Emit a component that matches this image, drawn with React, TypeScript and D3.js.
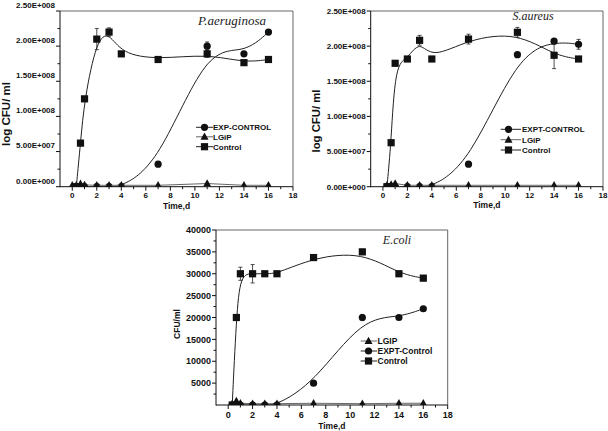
import React from 'react';
import * as d3 from 'd3';

// ---------- Data ----------
// P. aeruginosa
const paControlX = [0.33, 0.67, 1, 2, 3, 4, 7, 11, 14, 16];
const paControlY = [0, 6.2e7, 1.25e8, 2.1e8, 2.2e8, 1.89e8, 1.81e8, 1.89e8, 1.765e8, 1.81e8];
const paControlErr = [0, 0, 0, 1.5e7, 6e6, 0, 0, 5e6, 0, 0];
const paExpX = [0.33, 0.67, 1, 2, 3, 4, 7, 11, 14, 16];
const paExpY = [0, 0, 0, 0, 0, 0, 3.2e7, 2.0e8, 1.89e8, 2.2e8];
const paExpErr = [0, 0, 0, 0, 0, 0, 0, 6e6, 0, 0];
const paLgipX = [0, 0.33, 0.67, 1, 2, 3, 4, 7, 11, 14, 16];
const paLgipY = [2e6, 2e6, 4e6, 2.5e6, 2e6, 2e6, 2e6, 2e6, 4.5e6, 2e6, 2e6];

// S. aureus
const saControlX = [0.33, 0.67, 1, 2, 3, 4, 7, 11, 14, 16];
const saControlY = [0, 6.26e7, 1.756e8, 1.817e8, 2.083e8, 1.817e8, 2.1e8, 2.197e8, 1.87e8, 1.817e8];
const saControlErr = [0, 0, 0, 0, 7e6, 0, 7e6, 7e6, 1.9e7, 0];
const saExpX = [0.33, 0.67, 1, 2, 3, 4, 7, 11, 14, 16];
const saExpY = [0, 0, 0, 0, 0, 0, 3.2e7, 1.878e8, 2.07e8, 2.026e8];
const saExpErr = [0, 0, 0, 0, 0, 0, 0, 0, 3e6, 7e6];
const saLgipX = [0.33, 0.67, 1, 2, 3, 4, 7, 11, 14, 16];
const saLgipY = [2e6, 3e6, 4.5e6, 2e6, 2e6, 2e6, 2e6, 2e6, 2e6, 2e6];

// E. coli
const ecControlX = [0.33, 0.67, 1, 2, 3, 4, 7, 11, 14, 16];
const ecControlY = [0, 20000, 30000, 30000, 30000, 30000, 33700, 35000, 30000, 29000];
const ecControlErr = [0, 0, 1500, 2100, 0, 0, 500, 600, 600, 600];
const ecExpX = [0.33, 0.67, 1, 2, 3, 4, 7, 11, 14, 16];
const ecExpY = [0, 0, 0, 0, 0, 0, 5000, 20000, 20000, 22000];
const ecExpErr = [0, 0, 0, 0, 0, 0, 0, 700, 0, 0];
const ecLgipX = [0.33, 0.67, 1, 2, 3, 4, 7, 11, 14, 16];
const ecLgipY = [300, 900, 400, 300, 300, 300, 400, 300, 400, 400];

const xMajorTicks = [0, 2, 4, 6, 8, 10, 12, 14, 16, 18];
const xMinorTicks = [1, 3, 5, 7, 9, 11, 13, 15, 17];
const sciTicks = [0, 5e7, 1e8, 1.5e8, 2e8, 2.5e8];
const ecoliTicks = [5000, 10000, 15000, 20000, 25000, 30000, 35000, 40000];

const SANS = "'Liberation Sans', Arial, sans-serif";
const SERIF = "'Liberation Serif', 'Times New Roman', serif";

function sciFmt(v: number): string {
  if (v === 0) return '0.00E+000';
  const e = Math.floor(Math.log10(v));
  const m = v / Math.pow(10, e);
  return `${m.toFixed(2)}E+${String(e).padStart(3, '0')}`;
}

type Shape = 'square' | 'circle' | 'triangle';

function Marker({ shape, cx, cy }: { shape: Shape; cx: number; cy: number }) {
  const fill = '#111';
  if (shape === 'square') return <rect x={cx - 3.6} y={cy - 3.6} width={7.2} height={7.2} fill={fill} />;
  if (shape === 'circle') return <circle cx={cx} cy={cy} r={3.6} fill={fill} />;
  return <path d={`M${cx},${cy - 4.3}L${cx - 4},${cy + 3}L${cx + 4},${cy + 3}Z`} fill={fill} />;
}

interface Series {
  xs: number[];
  ys: number[];
  errs?: number[];
  shape: Shape;
  curve: 'basis' | 'linear';
  color: string;
}

interface LegendItem {
  label: string;
  shape: Shape;
  color: string;
}

interface PanelProps {
  id: string;
  left: number;
  right: number;
  top: number;
  bottom: number;
  yMax: number;
  yTicks: number[];
  yMinorStep: number;
  yFmt: (v: number) => string;
  labelDy: number;
  tickFont: number;
  xLabelDy: number;
  xTitleY: number;
  yTitle: { x: number; y: number; text: string; size: number; len?: number };
  title: { x: number; y: number; text: string; size: number };
  legend: { x0: number; x1: number; mx: number; tx: number; rows: number[]; items: LegendItem[]; size: number };
  series: Series[];
}

function Panel(p: PanelProps) {
  const x = d3.scaleLinear().domain([-1, 18]).range([p.left, p.right]);
  const y = d3.scaleLinear().domain([0, p.yMax]).range([p.bottom, p.top]);
  const clipId = `clip-${p.id}`;
  const minorY: number[] = [];
  for (let v = p.yMinorStep; v < p.yMax; v += p.yMinorStep * 2) minorY.push(v);

  return (
    <g>
      <defs>
        <clipPath id={clipId}>
          <rect x={p.left} y={p.top} width={p.right - p.left} height={p.bottom - p.top} />
        </clipPath>
      </defs>
      {/* frame */}
      <line x1={p.left} x2={p.right} y1={p.top} y2={p.top} stroke="#666" strokeWidth={1} />
      <line x1={p.right} x2={p.right} y1={p.top} y2={p.bottom} stroke="#666" strokeWidth={1} />
      <line x1={p.left} x2={p.left} y1={p.top} y2={p.bottom + 0.5} stroke="#111" strokeWidth={1} />
      <line x1={p.left} x2={p.right} y1={p.bottom} y2={p.bottom} stroke="#111" strokeWidth={1} />

      {/* x ticks */}
      {xMajorTicks.map((t) => (
        <g key={`xm${t}`}>
          <line x1={x(t)} x2={x(t)} y1={p.bottom} y2={p.bottom + 4} stroke="#111" />
          <text x={x(t)} y={p.bottom + p.xLabelDy} textAnchor="middle" fontFamily={SANS} fontWeight="bold" fontSize={p.tickFont} fill="#111">
            {t}
          </text>
        </g>
      ))}
      {xMinorTicks.map((t) => (
        <line key={`xn${t}`} x1={x(t)} x2={x(t)} y1={p.bottom} y2={p.bottom + 2.5} stroke="#111" />
      ))}

      {/* y ticks */}
      {p.yTicks.map((t) => (
        <g key={`ym${t}`}>
          <line x1={p.left - 4} x2={p.left} y1={y(t)} y2={y(t)} stroke="#111" />
          <text x={p.left - 5} y={y(t) + p.labelDy} dy="0.35em" textAnchor="end" fontFamily={SANS} fontWeight="bold" fontSize={p.tickFont} fill="#111">
            {p.yFmt(t)}
          </text>
        </g>
      ))}
      {minorY.map((t) => (
        <line key={`yn${t}`} x1={p.left - 2.5} x2={p.left} y1={y(t)} y2={y(t)} stroke="#111" />
      ))}

      {/* axis titles */}
      <text x={(p.left + p.right) / 2} y={p.xTitleY} textAnchor="middle" fontFamily={SANS} fontWeight="bold" fontSize={8.5} fill="#111">
        Time,d
      </text>
      <text
        transform={`translate(${p.yTitle.x},${p.yTitle.y}) rotate(-90)`}
        textAnchor="middle"
        dy="0.35em"
        fontFamily={SANS}
        fontWeight="bold"
        fontSize={p.yTitle.size}
        textLength={p.yTitle.len}
        lengthAdjust={p.yTitle.len ? 'spacingAndGlyphs' : undefined}
        fill="#111"
      >
        {p.yTitle.text}
      </text>

      {/* chart title */}
      <text x={p.title.x} y={p.title.y} textAnchor="middle" fontFamily={SERIF} fontStyle="italic" fontSize={p.title.size} fill="#222">
        {p.title.text}
      </text>

      {/* series */}
      <g clipPath={`url(#${clipId})`}>
        {p.series.map((s, i) => {
          const pts: [number, number][] = s.xs.map((xv, j) => [xv, s.ys[j]]);
          const line = d3
            .line<[number, number]>()
            .x((d) => x(d[0]))
            .y((d) => y(d[1]))
            .curve(s.curve === 'basis' ? d3.curveBasis : d3.curveLinear);
          return (
            <g key={`s${i}`}>
              <path d={line(pts) || ''} fill="none" stroke={s.color} strokeWidth={1} />
              {s.errs &&
                s.errs.map((e, j) =>
                  e > 0 ? (
                    <g key={`e${j}`} stroke={s.color} strokeWidth={0.8}>
                      <line x1={x(s.xs[j])} x2={x(s.xs[j])} y1={y(s.ys[j] - e)} y2={y(s.ys[j] + e)} />
                      <line x1={x(s.xs[j]) - 2} x2={x(s.xs[j]) + 2} y1={y(s.ys[j] + e)} y2={y(s.ys[j] + e)} />
                      <line x1={x(s.xs[j]) - 2} x2={x(s.xs[j]) + 2} y1={y(s.ys[j] - e)} y2={y(s.ys[j] - e)} />
                    </g>
                  ) : null
                )}
              {pts.map((d, j) => (
                <Marker key={`m${j}`} shape={s.shape} cx={x(d[0])} cy={y(d[1])} />
              ))}
            </g>
          );
        })}
      </g>

      {/* legend */}
      {p.legend.items.map((it, i) => (
        <g key={`l${i}`}>
          <line x1={p.legend.x0} x2={p.legend.x1} y1={p.legend.rows[i]} y2={p.legend.rows[i]} stroke={it.color} strokeWidth={1} />
          <Marker shape={it.shape} cx={p.legend.mx} cy={p.legend.rows[i]} />
          <text x={p.legend.tx} y={p.legend.rows[i]} dy="0.35em" fontFamily={SANS} fontWeight="bold" fontSize={p.legend.size} fill="#111">
            {it.label}
          </text>
        </g>
      ))}
    </g>
  );
}

const DARK = '#222';
const GREY = '#666';

export default function App() {
  return (
    <svg width={608} height={431} style={{ position: 'absolute', left: 0, top: 0, background: '#fff' }}>
      <rect width={608} height={431} fill="#fff" />
      <Panel
        id="pa"
        left={60}
        right={293}
        top={11}
        bottom={186.7}
        yMax={2.5e8}
        yTicks={sciTicks}
        yMinorStep={2.5e7}
        yFmt={sciFmt}
        labelDy={-6}
        tickFont={8}
        xLabelDy={11}
        xTitleY={209}
        yTitle={{ x: 6, y: 114, text: 'log CFU/ ml', size: 10, len: 64 }}
        title={{ x: 232, y: 25, text: 'P.aeruginosa', size: 13 }}
        legend={{
          x0: 196,
          x1: 213,
          mx: 204.5,
          tx: 213,
          rows: [127.3, 136.8, 146.7],
          size: 8,
          items: [
            { label: 'EXP-CONTROL', shape: 'circle', color: DARK },
            { label: 'LGiP', shape: 'triangle', color: GREY },
            { label: 'Control', shape: 'square', color: DARK },
          ],
        }}
        series={[
          { xs: paExpX, ys: paExpY, errs: paExpErr, shape: 'circle', curve: 'basis', color: DARK },
          { xs: paLgipX, ys: paLgipY, shape: 'triangle', curve: 'linear', color: GREY },
          { xs: paControlX, ys: paControlY, errs: paControlErr, shape: 'square', curve: 'basis', color: DARK },
        ]}
      />
      <Panel
        id="sa"
        left={370.7}
        right={603}
        top={11}
        bottom={186.7}
        yMax={2.5e8}
        yTicks={sciTicks}
        yMinorStep={2.5e7}
        yFmt={sciFmt}
        labelDy={0}
        tickFont={8}
        xLabelDy={11}
        xTitleY={208}
        yTitle={{ x: 316, y: 121, text: 'log CFU/ ml', size: 10, len: 63 }}
        title={{ x: 533, y: 20, text: 'S.aureus', size: 12 }}
        legend={{
          x0: 500.7,
          x1: 521,
          mx: 508.5,
          tx: 522,
          rows: [129.3, 139.7, 150],
          size: 8,
          items: [
            { label: 'EXPT-CONTROL', shape: 'circle', color: DARK },
            { label: 'LGiP', shape: 'triangle', color: GREY },
            { label: 'Control', shape: 'square', color: DARK },
          ],
        }}
        series={[
          { xs: saExpX, ys: saExpY, errs: saExpErr, shape: 'circle', curve: 'basis', color: DARK },
          { xs: saLgipX, ys: saLgipY, shape: 'triangle', curve: 'linear', color: GREY },
          { xs: saControlX, ys: saControlY, errs: saControlErr, shape: 'square', curve: 'basis', color: DARK },
        ]}
      />
      <Panel
        id="ec"
        left={216}
        right={447.7}
        top={230}
        bottom={405}
        yMax={40000}
        yTicks={ecoliTicks}
        yMinorStep={2500}
        yFmt={(v) => String(v)}
        labelDy={0}
        tickFont={9}
        xLabelDy={13}
        xTitleY={429}
        yTitle={{ x: 176.7, y: 324, text: 'CFU/ml', size: 8.5 }}
        title={{ x: 397, y: 244, text: 'E.coli', size: 12 }}
        legend={{
          x0: 360.7,
          x1: 377,
          mx: 368.5,
          tx: 377.5,
          rows: [341, 351, 361],
          size: 8.5,
          items: [
            { label: 'LGIP', shape: 'triangle', color: GREY },
            { label: 'EXPT-Control', shape: 'circle', color: DARK },
            { label: 'Control', shape: 'square', color: DARK },
          ],
        }}
        series={[
          { xs: ecLgipX, ys: ecLgipY, shape: 'triangle', curve: 'linear', color: GREY },
          { xs: ecExpX, ys: ecExpY, errs: ecExpErr, shape: 'circle', curve: 'basis', color: DARK },
          { xs: ecControlX, ys: ecControlY, errs: ecControlErr, shape: 'square', curve: 'basis', color: DARK },
        ]}
      />
    </svg>
  );
}
